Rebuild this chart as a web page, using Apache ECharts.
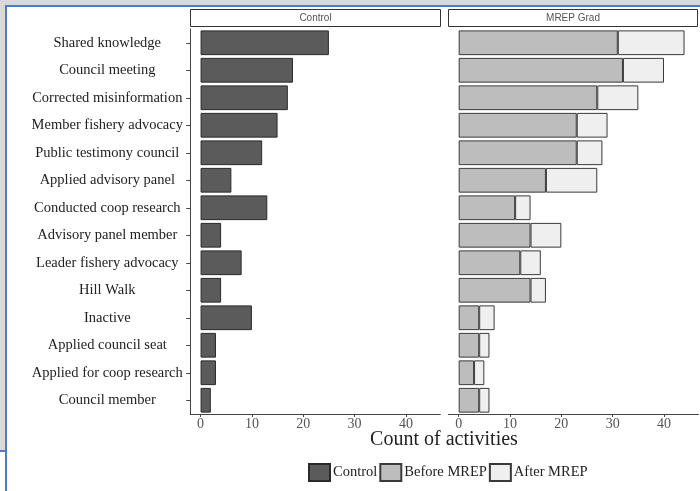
<!DOCTYPE html>
<html><head><meta charset="utf-8">
<script src="https://cdn.jsdelivr.net/npm/echarts@6/dist/echarts.min.js"></script>
<style>html,body{margin:0;padding:0;background:#fff}#c{width:700px;height:491px}</style>
</head><body><div id="c"></div>
<script>
const categories = ["Shared knowledge","Council meeting","Corrected misinformation","Member fishery advocacy","Public testimony council","Applied advisory panel","Conducted coop research","Advisory panel member","Leader fishery advocacy","Hill Walk","Inactive","Applied council seat","Applied for coop research","Council member"];
const controlValues = [25,18,17,15,12,6,13,4,8,4,10,3,3,2];
const beforeValues  = [31,32,27,23,23,17,11,14,12,14,4,4,3,4];
const afterValues   = [13,8,8,6,5,10,3,6,4,3,3,2,2,2];
const xTicks = [0,10,20,30,40];
const panelTitles = ["Control","MREP Grad"];

const serif = "Liberation Serif";
const chart = echarts.init(document.getElementById('c'), null, {renderer:'canvas'});
const axisCol = '#444';
function xAx(i){
  return {type:'value', gridIndex:i, min:-2, max:46.7,
    axisLine:{show:true, onZero:false, lineStyle:{color:axisCol,width:1}},
    axisTick:{show:true, length:3, customValues:xTicks, lineStyle:{color:axisCol}},
    axisLabel:{customValues:xTicks, color:'#555', fontFamily:serif, fontSize:14, margin:3},
    splitLine:{show:false}};
}
const option = {
  animation:false,
  backgroundColor:'#fff',
  grid:[
    {left:190.3, top:29, width:250, height:385},
    {left:448.4, top:29, width:250, height:385}
  ],
  xAxis:[xAx(0), xAx(1)],
  yAxis:[
    {type:'category', gridIndex:0, data:categories, inverse:true,
      axisLine:{show:true, onZero:false, lineStyle:{color:axisCol,width:1}},
      axisTick:{show:true, alignWithLabel:true, length:4, lineStyle:{color:axisCol}},
      axisLabel:{color:'#222', fontFamily:serif, fontSize:14.5, align:'center', margin:83}},
    {type:'category', gridIndex:1, data:categories, inverse:true,
      axisLine:{show:false, onZero:false}, axisTick:{show:false}, axisLabel:{show:false}}
  ],
  legend:{
    top:458, left:303, itemWidth:21, itemHeight:17, itemGap:2,
    icon:'rect',
    textStyle:{fontFamily:serif, fontSize:14.5, color:'#222', padding:[0,0,0,-2]},
    data:['Control','Before MREP','After MREP']
  },
  series:[
    {name:'Control', type:'bar', xAxisIndex:0, yAxisIndex:0, data:controlValues, barWidth:'90%',
      itemStyle:{color:'#5b5b5b', borderColor:'#2a2a2a', borderWidth:1}},
    {name:'Before MREP', type:'bar', stack:'m', xAxisIndex:1, yAxisIndex:1, data:beforeValues, barWidth:'90%',
      itemStyle:{color:'#bdbdbd', borderColor:'#3a3a3a', borderWidth:1}},
    {name:'After MREP', type:'bar', stack:'m', xAxisIndex:1, yAxisIndex:1, data:afterValues, barWidth:'90%',
      itemStyle:{color:'#efefef', borderColor:'#3a3a3a', borderWidth:1}}
  ],
  graphic:[
    {type:'rect', shape:{x:0,y:0,width:700,height:5}, style:{fill:'#d9d9d9'}, silent:true},
    {type:'rect', shape:{x:0,y:0,width:5,height:450}, style:{fill:'#d9d9d9'}, silent:true},
    {type:'rect', shape:{x:5,y:5,width:695,height:2}, style:{fill:'#4a7ec4'}, silent:true},
    {type:'rect', shape:{x:5,y:5,width:2,height:486}, style:{fill:'#4a7ec4'}, silent:true},
    {type:'rect', shape:{x:0,y:450,width:6,height:2}, style:{fill:'#4a7ec4'}, silent:true},
    {type:'rect', shape:{x:190.5,y:9.5,width:250,height:17}, style:{fill:'#fff', stroke:'#333', lineWidth:1}},
    {type:'rect', shape:{x:448.5,y:9.5,width:249,height:17}, style:{fill:'#fff', stroke:'#333', lineWidth:1}},
    {type:'text', x:315.5, y:18, style:{text:panelTitles[0], fill:'#555', font:'10px "Liberation Sans"', align:'center', verticalAlign:'middle'}},
    {type:'text', x:573, y:18, style:{text:panelTitles[1], fill:'#555', font:'10px "Liberation Sans"', align:'center', verticalAlign:'middle'}},
    {type:'text', x:444, y:440, style:{text:'Count of activities', fill:'#222', font:'20px "Liberation Serif"', align:'center', verticalAlign:'middle'}}
  ]
};
chart.setOption(option);
</script></body></html>
